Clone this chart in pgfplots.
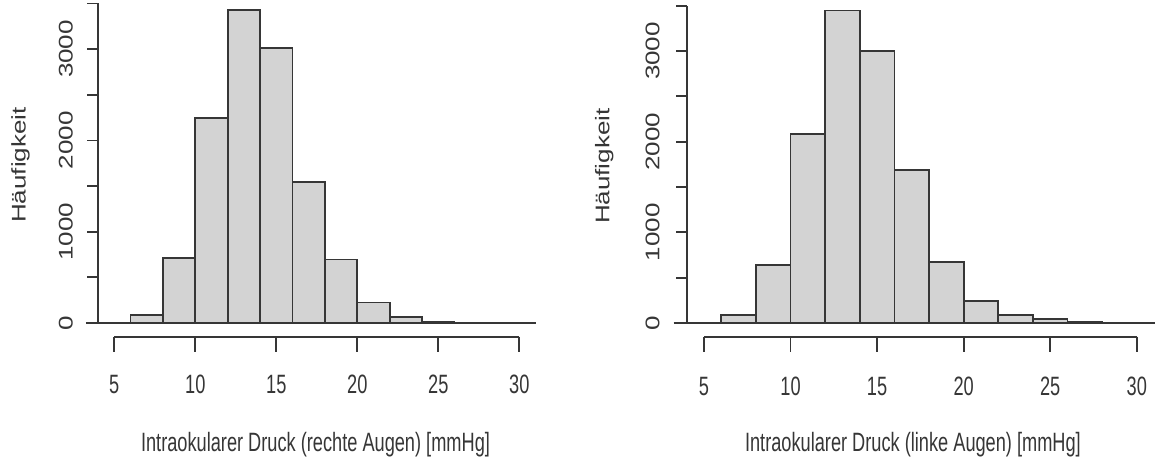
\documentclass[border=0pt]{standalone}
\usepackage{pgfplots}
\pgfplotsset{compat=1.18}
\usepackage{fontspec}
\setmainfont{Liberation Sans}
\usepackage{graphicx}

\definecolor{barfill}{HTML}{D3D3D3}
\definecolor{ink}{HTML}{363636}

% the source image is stretched vertically, so squeeze text accordingly
\newcommand{\htxt}[1]{\scalebox{0.70}[1.02]{#1}}
\newcommand{\vtxt}[1]{\scalebox{1}[0.76]{#1}}

\tikzset{rline/.style={ink, line width=0.85pt}}
\pgfplotsset{
  rhist/.style={
    scale only axis, axis lines=none, clip=false,
    xmin=3, xmax=31.5, ymin=0, ymax=3500,
    anchor=south west,
  },
  bars/.style={ybar interval, fill=barfill, draw=ink, line width=0.85pt},
}

\begin{document}
\begin{tikzpicture}[font=\fontsize{13}{15}\selectfont, every node/.style={text=ink}]
\path[use as bounding box] (0,0) rectangle (577.5pt,230.5pt);

% left: right eyes
\begin{axis}[rhist, at={(40.95pt,69pt)}, width=230.85pt, height=159.8pt]
\addplot[bars] coordinates {(6,85) (8,715) (10,2248) (12,3424) (14,3015) (16,1547) (18,697) (20,226) (22,69) (24,12) (26,12)};
\draw[rline] (axis cs:3.25,0) -- (axis cs:31.05,0);
\draw[rline] (axis cs:5,-150) -- (axis cs:30,-150);
\pgfplotsinvokeforeach{5,10,15,20,25,30}{
  \draw[rline] (axis cs:#1,-150) -- (axis cs:#1,-314);
  \node[anchor=base] at (axis cs:#1,-771) {\htxt{#1}};
}
\draw[rline] (axis cs:4,0) -- (axis cs:4,3500);
\pgfplotsinvokeforeach{0,500,1000,1500,2000,2500,3000,3500}{
  \draw[rline] (axis cs:4,#1) -- (axis cs:3.32,#1);
}
\pgfplotsinvokeforeach{0,1000,2000,3000}{
  \node[rotate=90,anchor=base] at (axis cs:2.42,#1) {\vtxt{#1}};
}
\node[anchor=base] at (axis cs:17.42,-1408) {\htxt{Intraokularer Druck (rechte Augen) [mmHg]}};
\node[rotate=90,anchor=base] at (axis cs:-0.47,1730) {\vtxt{Häufigkeit}};
\end{axis}

% right: left eyes
\begin{axis}[rhist, at={(334.69pt,69pt)}, width=246.67pt, height=158.67pt]
\addplot[bars] coordinates {(6,88) (8,640) (10,2081) (12,3448) (14,3000) (16,1687) (18,676) (20,246) (22,88) (24,41) (26,12) (28,12)};
\draw[rline] (axis cs:3.25,0) -- (axis cs:31.05,0);
\draw[rline] (axis cs:5,-151) -- (axis cs:30,-151);
\pgfplotsinvokeforeach{5,10,15,20,25,30}{
  \draw[rline] (axis cs:#1,-151) -- (axis cs:#1,-321);
  \node[anchor=base] at (axis cs:#1,-798) {\htxt{#1}};
}
\draw[rline] (axis cs:4,0) -- (axis cs:4,3500);
\pgfplotsinvokeforeach{0,500,1000,1500,2000,2500,3000,3500}{
  \draw[rline] (axis cs:4,#1) -- (axis cs:3.36,#1);
}
\pgfplotsinvokeforeach{0,1000,2000,3000}{
  \node[rotate=90,anchor=base] at (axis cs:2.42,#1) {\vtxt{#1}};
}
\node[anchor=base] at (axis cs:17.07,-1418) {\htxt{Intraokularer Druck (linke Augen) [mmHg]}};
\node[rotate=90,anchor=base] at (axis cs:-0.47,1730) {\vtxt{Häufigkeit}};
\end{axis}
\end{tikzpicture}
\end{document}
